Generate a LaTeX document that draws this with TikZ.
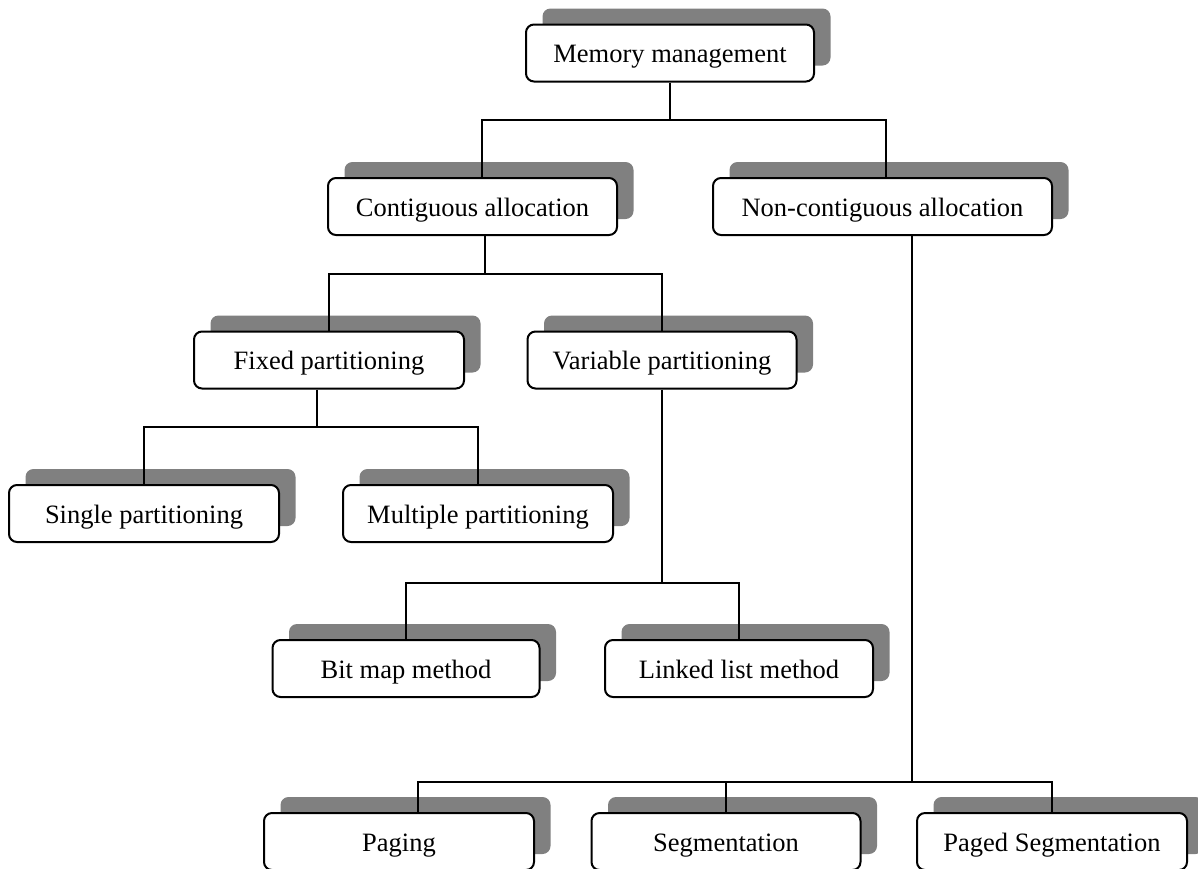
\documentclass[tikz,border=0pt]{standalone}
\usepackage{fontspec}
\setmainfont{Liberation Serif}
\usetikzlibrary{shadows}
\definecolor{shadowgray}{HTML}{808080}
\tikzset{
  x=1pt, y=-1pt,
  box/.style={draw=black, line width=2pt, fill=white, rounded corners=8pt,
    minimum height=57pt, inner sep=0pt, align=center,
    text height=19pt, text depth=0pt,
    font=\fontsize{26.5}{30}\selectfont,
    general shadow={fill=shadowgray, shadow xshift=16.5pt, shadow yshift=16pt}},
  link/.style={draw=black, line width=2pt}
}
\begin{document}
\begin{tikzpicture}
\useasboundingbox (0,0) rectangle (1198,868);
\clip (0,0) rectangle (1198,868);
\fill[white] (0,0) rectangle (1198,868);

% boxes
\node[box, minimum width=288pt] (mm)        at (670,53)      {Memory management};
\node[box, minimum width=289pt] (contig)    at (472.5,206.5) {Contiguous allocation};
\node[box, minimum width=339pt] (noncontig) at (882.5,206.5) {Non-contiguous allocation};
\node[box, minimum width=270pt] (fixed)     at (329,360)     {Fixed partitioning};
\node[box, minimum width=269pt] (variable)  at (662,360)     {Variable partitioning};
\node[box, minimum width=270pt] (single)    at (144,513.5)   {Single partitioning};
\node[box, minimum width=270pt] (multiple)  at (478,513.5)   {Multiple partitioning};
\node[box, minimum width=267pt] (bitmap)    at (406,668.5)   {Bit map method};
\node[box, minimum width=268pt] (linked)    at (739,668.5)   {Linked list method};
\node[box, minimum width=270pt] (paging)    at (399,841.5)   {Paging};
\node[box, minimum width=269pt] (segm)      at (726,841.5)   {Segmentation};
\node[box, minimum width=270pt] (pseg)      at (1052,841.5)  {Paged Segmentation};

% branching levels
\coordinate (b1) at (0,120);
\coordinate (b2) at (0,274);
\coordinate (b3) at (0,427);
\coordinate (b4) at (0,583);
\coordinate (b5) at (0,782);

% connector anchors that sit off the box centres
\coordinate (ctop)  at ([xshift=9.5pt]contig.north);
\coordinate (cbot)  at ([xshift=12.5pt]contig.south);
\coordinate (nctop) at ([xshift=3.5pt]noncontig.north);
\coordinate (ncbot) at ([xshift=29.5pt]noncontig.south);
\coordinate (fbot)  at ([xshift=-12pt]fixed.south);
\coordinate (ptop)  at ([xshift=19pt]paging.north);

% connectors
\draw[link] (mm.south) -- (mm.south |- b1);
\draw[link] (ctop) -- (ctop |- b1) -- (nctop |- b1) -- (nctop);

\draw[link] (cbot) -- (cbot |- b2);
\draw[link] (fixed.north) -- (fixed.north |- b2) -- (variable.north |- b2) -- (variable.north);

\draw[link] (fbot) -- (fbot |- b3);
\draw[link] (single.north) -- (single.north |- b3) -- (multiple.north |- b3) -- (multiple.north);

\draw[link] (variable.south) -- (variable.south |- b4);
\draw[link] (bitmap.north) -- (bitmap.north |- b4) -- (linked.north |- b4) -- (linked.north);

\draw[link] (ncbot) -- (ncbot |- b5);
\draw[link] (ptop) -- (ptop |- b5) -- (pseg.north |- b5) -- (pseg.north);
\draw[link] (segm.north) -- (segm.north |- b5);
\end{tikzpicture}
\end{document}
